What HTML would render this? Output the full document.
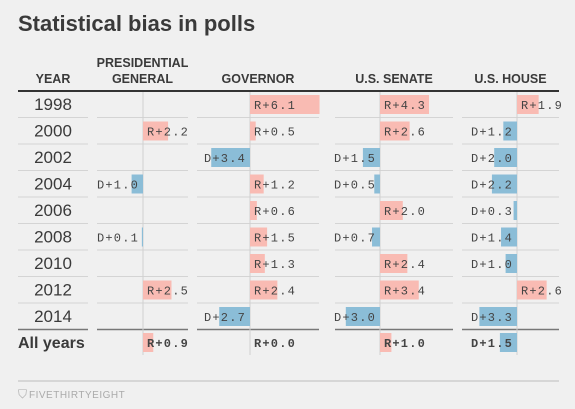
<!DOCTYPE html>
<html><head><meta charset="utf-8"><style>
html,body{margin:0;padding:0;background:#f0f0f0;}
svg{display:block;font-family:"Liberation Sans",sans-serif;}
.mono{font-family:"Liberation Mono",monospace;font-size:12px;fill:#444;letter-spacing:1.2px;}
</style></head><body>
<svg id="c" width="575" height="409">
<text x="18" y="31" font-size="22" font-weight="bold" fill="#3a3a3a">Statistical bias in polls</text>
<g id="g"></g>
<line x1="18" y1="381" x2="559" y2="381" stroke="#bdbdbd" stroke-width="1"/>
<text x="18" y="398" font-size="12" fill="#aaa">⛉</text>
<text x="29" y="398" font-size="10" fill="#aaa" letter-spacing="0.5">FIVETHIRTYEIGHT</text>
</svg>
<script>
const years = ["1998","2000","2002","2004","2006","2008","2010","2012","2014","All years"];
const presidential = [null, 2.2, null, -1.0, null, -0.1, null, 2.5, null, 0.9];
const governor = [6.1, 0.5, -3.4, 1.2, 0.6, 1.5, 1.3, 2.4, -2.7, 0.0];
const senate = [4.3, 2.6, -1.5, -0.5, 2.0, -0.7, 2.4, 3.4, -3.0, 1.0];
const house = [1.9, -1.2, -2.0, -2.2, -0.3, -1.4, -1.0, 2.6, -3.3, -1.5];
const headers = [["PRESIDENTIAL","GENERAL"],["GOVERNOR"],["U.S. SENATE"],["U.S. HOUSE"]];

const NS="http://www.w3.org/2000/svg";
const g=document.getElementById('g');
function mk(t,a,p){const e=document.createElementNS(NS,t);for(const k in a)e.setAttribute(k,a[k]);(p||g).appendChild(e);return e;}
const cols=[{x0:97,x1:188,ax:143,d:presidential,n:'presidential'},{x0:197,x1:319,ax:250,d:governor,n:'governor'},{x0:335,x1:453,ax:380,d:senate,n:'senate'},{x0:462,x1:559,ax:517,d:house,n:'house'}];
const scale=11.4;
function rowY(i){return i<9?104+i*26.5:342;}
// headers
let t=mk('text',{x:53,y:83,'font-size':12.5,'font-weight':'bold',fill:'#3a3a3a','text-anchor':'middle'});
t.textContent='YEAR';


cols.forEach((c,ci)=>{
  const h=headers[ci];
  h.forEach((s,li)=>{
    const e=mk('text',{x:(c.x0+c.x1)/2,y:83-(h.length-1-li)*16,'font-size':12.5,'font-weight':'bold',fill:'#3a3a3a','text-anchor':'middle'});
    e.textContent=s;
    
    
  });
});
const hl=mk('line',{x1:18,y1:91,x2:559,y2:91,stroke:'#333','stroke-width':2});


// separators
for(let i=0;i<9;i++){
  const y=rowY(i)+13.5;
  const heavy=i===8;
  [[18,88]].concat(cols.map(c=>[c.x0,c.x1])).forEach(([a,b])=>{
    const l=mk('line',{x1:a,y1:y,x2:b,y2:y,stroke:heavy?'#777':'#d4d4d4','stroke-width':heavy?1.5:1});
    
    
  });
}
// axes
cols.forEach(c=>{
  const l=mk('line',{x1:c.ax,y1:92,x2:c.ax,y2:355,stroke:'#d0d0d0','stroke-width':1});
  
  
});
// rows
years.forEach((yr,i)=>{
  const y=rowY(i);
  const last=i===9;
  const e=mk('text',{x:last?18:53,y:y+6,'font-size':last?16:17,'font-weight':last?'bold':'normal',fill:'#3a3a3a','text-anchor':last?'start':'middle'});
  e.textContent=yr;
  
  
  cols.forEach(c=>{
    const v=c.d[i];
    if(v===null)return;
    const w=Math.abs(v)*scale;
    const isR=v>=0;
    const r=mk('rect',{x:isR?c.ax:c.ax-w,y:y-9,width:w,height:19,fill:isR?'#f9bbb3':'#8bbdd7'});
    
    
    const lab=(isR?'R+':'D+')+Math.abs(v).toFixed(1);
    const tx=mk('text',{x:isR?c.ax+4:c.ax-4,y:y+5,'text-anchor':isR?'start':'end',class:'mono','font-weight':last?'bold':'normal'});
    tx.textContent=lab;
    
    
  });
});
</script>
</body></html>
